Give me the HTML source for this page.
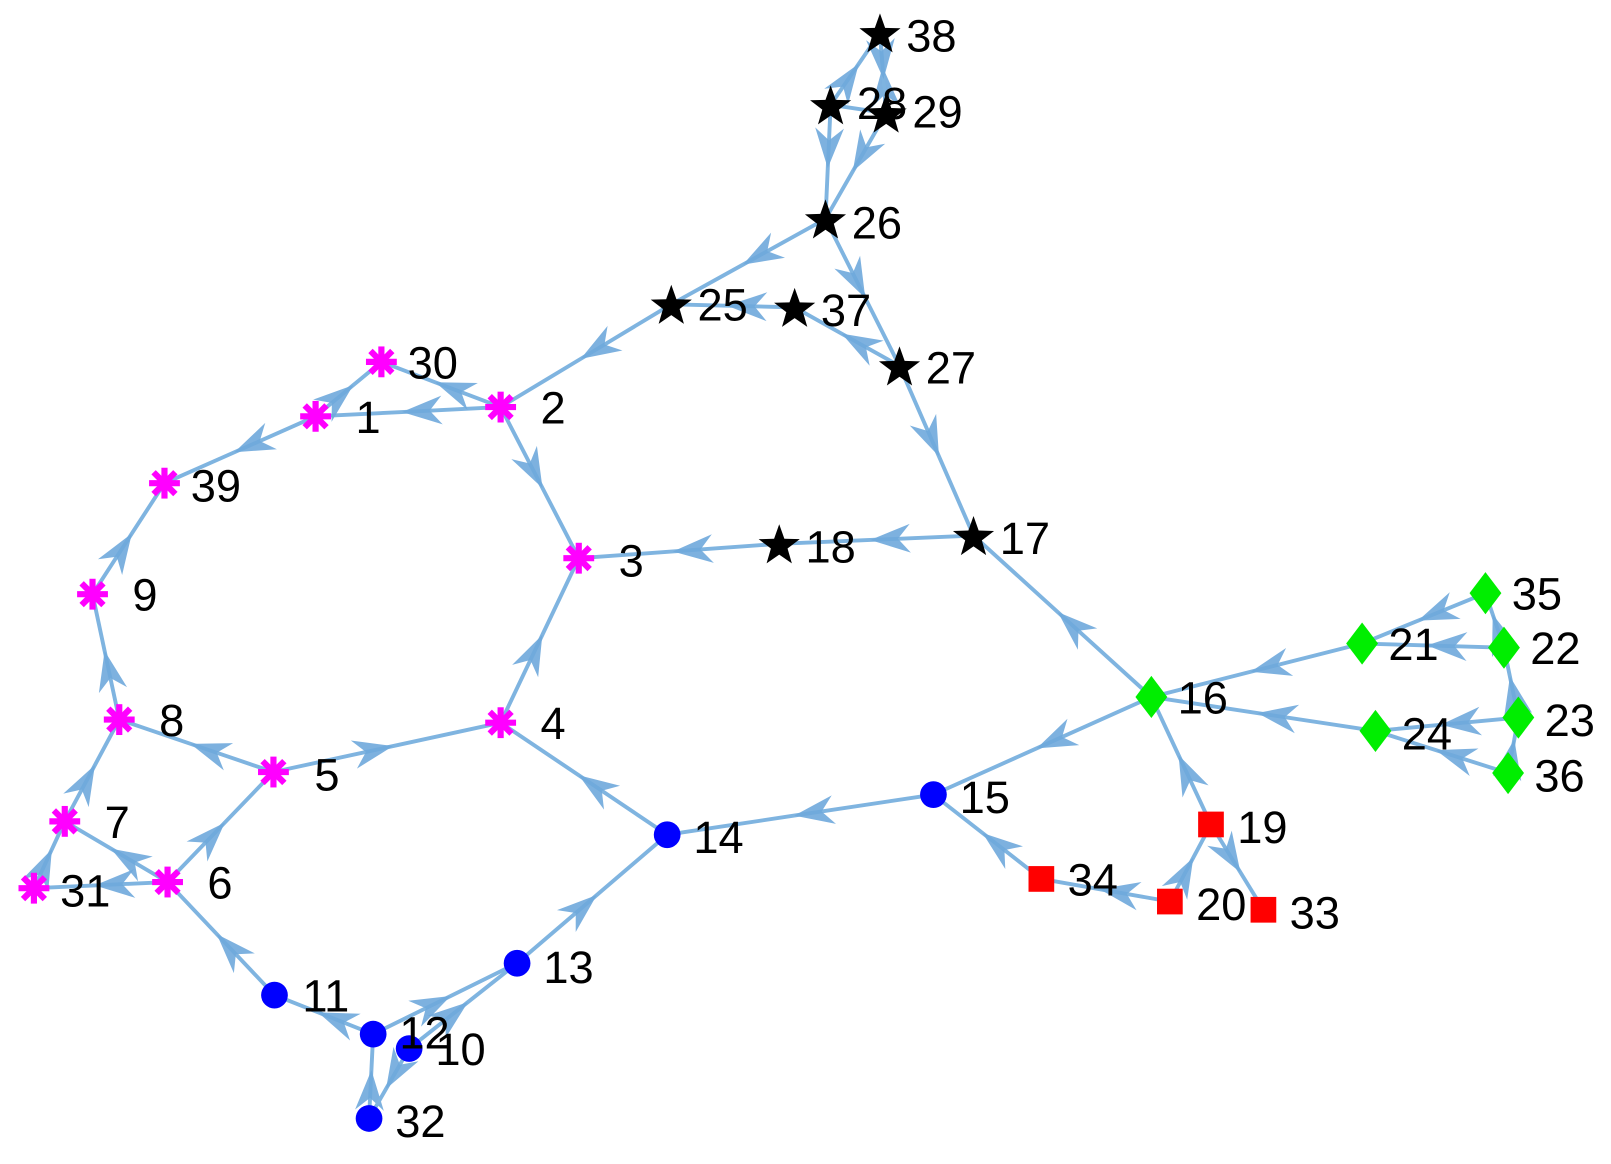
<!DOCTYPE html>
<html><head><meta charset="utf-8"><style>
html,body{margin:0;padding:0;background:#fff;}
svg{display:block;}
text{font-family:"Liberation Sans",Arial,sans-serif;font-size:44px;fill:#000;text-anchor:middle;}
</style></head><body>
<svg id="s" width="1611" height="1164" viewBox="0 0 1611 1164" xmlns="http://www.w3.org/2000/svg">
<defs>
<marker id="a" viewBox="-42 -16 44 32" markerWidth="44" markerHeight="32" refX="0" refY="0" orient="auto" markerUnits="userSpaceOnUse">
<path d="M0,0 L-39,-14 L-27,0 L-39,14 Z" fill="#6fa9dc" fill-opacity="0.9"/>
</marker>
</defs>
<g transform="scale(1.028)">
<g id="edges" fill="none" stroke="#7fb4e0" stroke-width="3.8"></g>
<g id="nodes"></g>
<g id="labels">
<text x="906" y="50">38</text>
<text x="858" y="116">28</text>
<text x="912" y="124">29</text>
<text x="853" y="232">26</text>
<text x="703" y="312">25</text>
<text x="823" y="317">37</text>
<text x="925" y="373">27</text>
<text x="997" y="539">17</text>
<text x="808" y="547">18</text>
<text x="421" y="368">30</text>
<text x="358" y="421">1</text>
<text x="538" y="412">2</text>
<text x="210" y="488">39</text>
<text x="614" y="561">3</text>
<text x="141" y="594">9</text>
<text x="167" y="716">8</text>
<text x="538" y="719">4</text>
<text x="318" y="769">5</text>
<text x="114" y="815">7</text>
<text x="83" y="882">31</text>
<text x="214" y="874">6</text>
<text x="317" y="984">11</text>
<text x="413" y="1020">12</text>
<text x="448" y="1036">10</text>
<text x="409" y="1106">32</text>
<text x="553" y="956">13</text>
<text x="699" y="830">14</text>
<text x="958" y="791">15</text>
<text x="1170" y="694">16</text>
<text x="1495" y="593">35</text>
<text x="1375" y="642">21</text>
<text x="1513" y="646">22</text>
<text x="1527" y="716">23</text>
<text x="1388" y="729">24</text>
<text x="1517" y="770">36</text>
<text x="1228" y="820">19</text>
<text x="1063" y="871">34</text>
<text x="1188" y="895">20</text>
<text x="1279" y="903">33</text>
</g>
</g>
</svg>
<script>
var N={38:[856,32,'s'],28:[808,102,'s'],29:[862,110,'s'],26:[803,213,'s'],25:[653,296,'s'],37:[773,299,'s'],27:[875,356,'s'],17:[947,521,'s'],18:[758,529,'s'],
30:[371,352,'m'],1:[307,405,'m'],2:[487,396,'m'],39:[160,470,'m'],3:[563,543,'m'],9:[90,578,'m'],8:[116,700,'m'],4:[487,703,'m'],5:[266,751,'m'],7:[63,799,'m'],31:[33,864,'m'],6:[163,858,'m'],
11:[267,968,'b'],12:[363,1006,'b'],10:[398,1020,'b'],32:[359,1088,'b'],13:[503,937,'b'],14:[649,812,'b'],15:[908,773,'b'],
16:[1120,678,'g'],35:[1445,577,'g'],21:[1325,626,'g'],22:[1463,630,'g'],23:[1477,698,'g'],24:[1338,711,'g'],36:[1467,752,'g'],
19:[1178,802,'r'],34:[1013,855,'r'],20:[1138,877,'r'],33:[1229,885,'r']};
var E=[[28,38],[29,38],[38,29],[28,26],[29,26],[26,25],[26,27],[37,25],[27,37],[27,17],[17,18],[18,3],[25,2],[2,1],[2,30],[1,30],[1,39],[9,39],[8,9],[2,3],[4,3],[5,4],[5,8],[7,8],[6,5],[6,7],[31,7],[6,31],[11,6],[12,11],[12,13],[10,13],[32,12],[10,32],[13,14],[14,4],[15,14],[16,15],[16,17],[21,16],[24,16],[35,21],[22,21],[22,35],[23,22],[23,24],[36,24],[36,23],[19,16],[20,19],[19,33],[34,15],[20,34]];
var P=[[28,29]];
var ns="http://www.w3.org/2000/svg",eg=document.getElementById('edges'),ng=document.getElementById('nodes');
E.forEach(function(e){var a=N[e[0]],b=N[e[1]];var mx=(a[0]+b[0])/2,my=(a[1]+b[1])/2;
var dx=b[0]-a[0],dy=b[1]-a[1],L=Math.hypot(dx,dy);mx+=dx/L*6;my+=dy/L*6;
var p=document.createElementNS(ns,'polyline');p.setAttribute('points',a[0]+','+a[1]+' '+mx+','+my+' '+b[0]+','+b[1]);p.setAttribute('marker-mid','url(#a)');eg.appendChild(p);});
P.forEach(function(e){var a=N[e[0]],b=N[e[1]];var p=document.createElementNS(ns,'line');p.setAttribute('x1',a[0]);p.setAttribute('y1',a[1]);p.setAttribute('x2',b[0]);p.setAttribute('y2',b[1]);eg.appendChild(p);});
function el(t,at){var e=document.createElementNS(ns,t);for(var k in at)e.setAttribute(k,at[k]);ng.appendChild(e);}
for(var k in N){var x=N[k][0],y=N[k][1],t=N[k][2];
if(t=='s'){var pts=[];for(var i=0;i<10;i++){var r=i%2?8.5:21,an=-Math.PI/2+i*Math.PI/5;pts.push((x+r*Math.cos(an)).toFixed(1)+','+(y+r*Math.sin(an)+2).toFixed(1));}el('polygon',{points:pts.join(' '),fill:'#000'});}
else if(t=='m'){for(var i=0;i<4;i++){var an=i*Math.PI/4;el('line',{x1:x-15*Math.cos(an),y1:y-15*Math.sin(an),x2:x+15*Math.cos(an),y2:y+15*Math.sin(an),stroke:'#ff00ff','stroke-width':6});}}
else if(t=='b'){el('circle',{cx:x,cy:y,r:13,fill:'#0000ff'});}
else if(t=='g'){el('polygon',{points:x+','+(y-20.5)+' '+(x+15.5)+','+y+' '+x+','+(y+20.5)+' '+(x-15.5)+','+y,fill:'#00ee00'});}
else if(t=='r'){el('rect',{x:x-12.5,y:y-12.5,width:25,height:25,fill:'#ff0000'});}}
</script>
</body></html>
